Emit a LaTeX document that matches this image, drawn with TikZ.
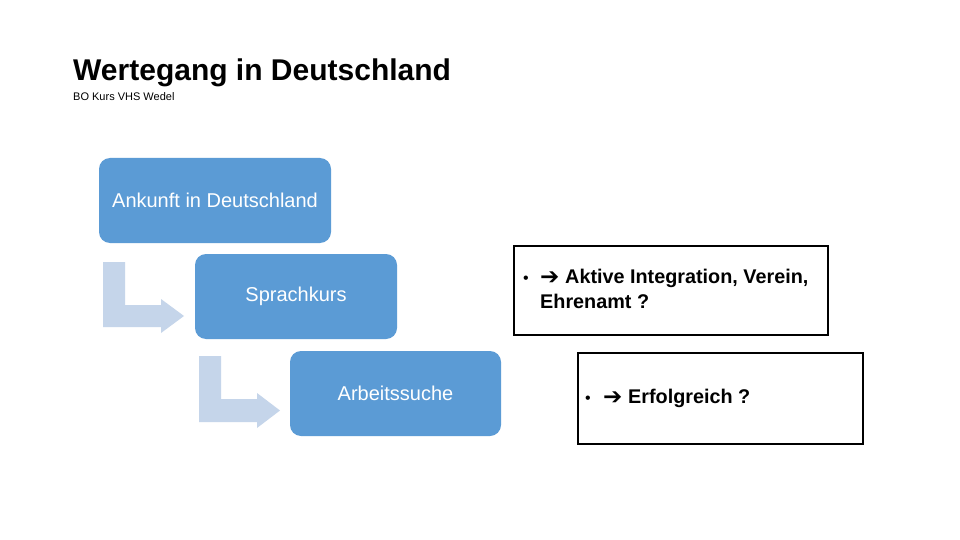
\documentclass[tikz,border=0pt]{standalone}
\usepackage{fontspec}
\setmainfont{Liberation Sans}
\newfontfamily\arrowfont{DejaVu Sans}
\definecolor{stepblue}{HTML}{5B9BD5}
\definecolor{arrowblue}{HTML}{C5D5EA}
\begin{document}
\begin{tikzpicture}[x=1pt,y=-1pt,
  stepbox/.style={fill=stepblue, draw=none, rounded corners=11pt, text=white,
    font=\fontsize{20}{23}\selectfont, inner sep=0pt},
  notebox/.style={draw=black, line width=2pt, fill=white, inner sep=0pt},
  notetext/.style={font=\bfseries\fontsize{19.8}{23}\selectfont, anchor=west, inner sep=0pt},
  bulletmark/.style={font=\fontsize{16}{18}\selectfont, inner sep=0pt},
  arrowmark/.style={font=\arrowfont\fontsize{23}{26}\selectfont, anchor=west, inner sep=0pt},
  bent/.style={fill=arrowblue, draw=none}]
\useasboundingbox (0,0) rectangle (960,540);
\fill[white] (0,0) rectangle (960,540);
% title
\node[anchor=west, inner sep=0pt, font=\bfseries\fontsize{30}{33}\selectfont] (title) at (73,73) {Wertegang in Deutschland};
\node[anchor=west, inner sep=0pt, font=\fontsize{11}{13}\selectfont] (sub) at (73,97) {BO Kurs VHS Wedel};
% steps
\node[stepbox, minimum width=232pt, minimum height=85pt] (s1) at (215,200.5) {Ankunft in Deutschland};
\node[stepbox, minimum width=202pt, minimum height=85pt] (s2) at (296,296.5) {Sprachkurs};
\node[stepbox, minimum width=211pt, minimum height=85pt] (s3) at (395.5,393.5) {Arbeitssuche};
% bent arrows
\fill[bent] (103,262) -- (125,262) -- (125,305) -- (161,305) -- (161,299) -- (184,316) -- (161,333) -- (161,327) -- (103,327) -- cycle;
\fill[bent] (199,356) -- (221,356) -- (221,399) -- (257,399) -- (257,393) -- (280,410.5) -- (257,428) -- (257,422) -- (199,422) -- cycle;
% note boxes
\node[notebox, minimum width=314pt, minimum height=89pt] (n1) at (671,290.5) {};
\node[notebox, minimum width=285pt, minimum height=91pt] (n2) at (720.5,398.5) {};
% note 1 text
\node[bulletmark] (b1) at (526,280) {•};
\node[arrowmark] (a1) at (540,278.5) {➔};
\node[notetext] (t1a) at (565,278) {Aktive Integration, Verein,};
\node[notetext] (t1b) at (540,301) {Ehrenamt ?};
% note 2 text
\node[bulletmark] (b2) at (588,400) {•};
\node[arrowmark] (a2) at (603,398.5) {➔};
\node[notetext] (t2) at (628,398) {Erfolgreich ?};
\end{tikzpicture}
\end{document}
